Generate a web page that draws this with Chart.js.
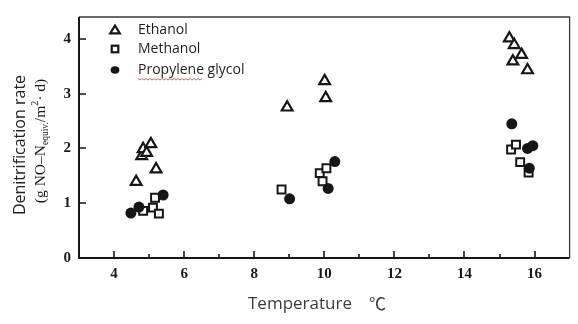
<!DOCTYPE html>
<html>
<head>
<meta charset="utf-8">
<script src="https://cdn.jsdelivr.net/npm/chart.js@4/dist/chart.umd.min.js"></script>
<style>
  html, body { margin: 0; padding: 0; background: #fff; }
  #wrap { width: 578px; height: 324px; }
</style>
</head>
<body>
<div id="wrap"><canvas id="c" width="578" height="324"></canvas></div>
<script>
// Denitrification rate versus temperature for three carbon sources
const ethanolTemp = [4.63, 4.79, 4.83, 4.93, 5.05, 5.20, 8.94, 10.01, 10.04, 15.28, 15.38, 15.42, 15.63, 15.80];
const ethanolRate = [1.39, 1.86, 1.99, 1.92, 2.08, 1.62, 2.75, 3.23, 2.92, 4.01, 3.59, 3.89, 3.71, 3.43];

const methanolTemp = [4.83, 5.11, 5.17, 5.28, 8.78, 9.87, 9.95, 10.06, 15.33, 15.47, 15.59, 15.83];
const methanolRate = [0.86, 0.92, 1.10, 0.81, 1.25, 1.55, 1.40, 1.64, 1.98, 2.07, 1.75, 1.56];

const glycolTemp = [4.48, 4.71, 5.40, 9.01, 10.11, 10.30, 15.35, 15.80, 15.95, 15.85];
const glycolRate = [0.82, 0.93, 1.15, 1.08, 1.27, 1.76, 2.45, 2.00, 2.05, 1.64];

const seriesNames = ['Ethanol', 'Methanol', 'Propylene glycol'];
const xTickLabels = [4, 6, 8, 10, 12, 14, 16];
const yTickLabels = [0, 1, 2, 3, 4];

const pts = (xs, ys) => xs.map((x, i) => ({ x: x, y: ys[i] }));

const INK = '#161616';

// Boxed frame with inward-pointing tick marks
const framePlugin = {
  id: 'frame',
  beforeDatasetsDraw(chart) {
    const { ctx, chartArea: a, scales } = chart;
    ctx.save();
    ctx.strokeStyle = '#3a3a3a';
    ctx.lineWidth = 1.3;
    ctx.beginPath();
    ctx.moveTo(a.left, a.top); ctx.lineTo(a.right, a.top); ctx.lineTo(a.right, a.bottom);
    ctx.stroke();
    ctx.strokeStyle = INK;
    ctx.lineWidth = 2;
    ctx.beginPath();
    ctx.moveTo(a.left, a.top); ctx.lineTo(a.left, a.bottom); ctx.lineTo(a.right, a.bottom);
    ctx.stroke();
    ctx.lineWidth = 1.6;
    ctx.beginPath();
    for (let v = 4; v <= 16; v++) {
      const px = Math.round(scales.x.getPixelForValue(v));
      const len = v % 2 === 0 ? 7 : 4;
      ctx.moveTo(px, a.bottom); ctx.lineTo(px, a.bottom - len);
    }
    yTickLabels.forEach(v => {
      if (v === 0) return;
      const py = Math.round(scales.y.getPixelForValue(v));
      ctx.moveTo(a.left, py); ctx.lineTo(a.left + 7, py);
    });
    ctx.stroke();
    ctx.restore();
  }
};

// Axis titles and the in-plot key
const annotatePlugin = {
  id: 'annotate',
  afterDraw(chart) {
    const ctx = chart.ctx;
    ctx.save();

    // x title
    ctx.fillStyle = '#3b3b3b';
    ctx.textBaseline = 'middle';
    ctx.textAlign = 'left';
    ctx.font = '17px "Open Sans"';
    ctx.fillText('Temperature', 248, 304);
    ctx.font = '17px "Noto Sans CJK SC"';
    ctx.fillText('℃', 369, 304);

    // y title, line 1
    ctx.save();
    ctx.translate(20, 145);
    ctx.rotate(-Math.PI / 2);
    ctx.textAlign = 'center';
    ctx.fillStyle = '#222';
    ctx.font = '16px "Open Sans"';
    ctx.fillText('Denitrification rate', 0, 0);
    ctx.restore();

    // y title, line 2 with sub/superscripts
    ctx.save();
    ctx.translate(41, 141);
    ctx.rotate(-Math.PI / 2);
    ctx.textAlign = 'left';
    ctx.fillStyle = '#1a1a1a';
    const parts = [
      { t: '(g NO\u2013N', f: '15.5px "Liberation Serif"', dy: 0 },
      { t: 'equiv.', f: '9.5px "Liberation Serif"', dy: 4 },
      { t: '/m', f: '15.5px "Liberation Serif"', dy: 0 },
      { t: '2', f: '10px "Liberation Serif"', dy: -6 },
      { t: '\u00b7 d)', f: '15.5px "Liberation Serif"', dy: 0 }
    ];
    let total = 0;
    parts.forEach(p => { ctx.font = p.f; p.w = ctx.measureText(p.t).width; total += p.w; });
    let x = -total / 2;
    parts.forEach(p => { ctx.font = p.f; ctx.fillText(p.t, x, p.dy); x += p.w; });
    ctx.restore();

    // key
    const kx = 115, ky = [30, 49, 70];
    ctx.strokeStyle = INK;
    ctx.fillStyle = INK;
    ctx.lineWidth = 2.2;
    // triangle
    ctx.beginPath();
    ctx.moveTo(kx, ky[0] - 4.5); ctx.lineTo(kx + 4.8, ky[0] + 3.3); ctx.lineTo(kx - 4.8, ky[0] + 3.3); ctx.closePath();
    ctx.stroke();
    // square
    ctx.strokeRect(kx - 3.3, ky[1] - 3.3, 6.6, 6.6);
    // dot
    ctx.beginPath();
    ctx.ellipse(kx, ky[2], 4.4, 3.8, 0, 0, Math.PI * 2);
    ctx.fill();

    ctx.fillStyle = '#1e1e1e';
    ctx.font = '14px "Open Sans"';
    ctx.textAlign = 'left';
    seriesNames.forEach((n, i) => ctx.fillText(n, 138, ky[i]));

    // spell-check underline under the first word of the last key entry
    const w = ctx.measureText('Propylene').width;
    ctx.strokeStyle = '#d23a3a';
    ctx.lineWidth = 0.8;
    ctx.beginPath();
    for (let sx = 138, k = 0; sx <= 138 + w; sx += 2, k++) {
      const sy = 79 + (k % 2 ? 1 : -0.5);
      if (k === 0) ctx.moveTo(sx, sy); else ctx.lineTo(sx, sy);
    }
    ctx.stroke();

    ctx.restore();
  }
};

const tickFont = { family: '"Liberation Serif"', size: 15, weight: 'bold' };

new Chart(document.getElementById('c'), {
  type: 'scatter',
  data: {
    datasets: [
      {
        label: seriesNames[0],
        data: pts(ethanolTemp, ethanolRate),
        pointStyle: 'triangle',
        pointRadius: 6.2,
        borderWidth: 2.2,
        borderColor: INK,
        backgroundColor: '#ffffff',
        order: 2
      },
      {
        label: seriesNames[1],
        data: pts(methanolTemp, methanolRate),
        pointStyle: 'rect',
        pointRadius: 5.6,
        borderWidth: 2,
        borderColor: INK,
        backgroundColor: '#ffffff',
        order: 1
      },
      {
        label: seriesNames[2],
        data: pts(glycolTemp, glycolRate),
        pointStyle: 'circle',
        pointRadius: 5.5,
        borderWidth: 0,
        borderColor: INK,
        backgroundColor: INK,
        order: 0
      }
    ]
  },
  options: {
    responsive: false,
    devicePixelRatio: 1,
    animation: false,
    layout: { padding: { left: 0, right: 8, top: 9, bottom: 0 } },
    plugins: { legend: { display: false }, tooltip: { enabled: false } },
    scales: {
      x: {
        type: 'linear',
        min: 3,
        max: 17,
        grid: { display: false, drawTicks: false },
        border: { display: false },
        afterBuildTicks: s => { s.ticks = xTickLabels.map(v => ({ value: v })); },
        ticks: {
          autoSkip: false,
          maxRotation: 0,
          padding: 7,
          color: '#1a1a1a',
          font: tickFont,
          callback: v => v
        },
        afterFit: s => { s.height = 66; }
      },
      y: {
        min: 0,
        max: 4.4,
        grid: { display: false, drawTicks: false },
        border: { display: false },
        afterBuildTicks: s => { s.ticks = yTickLabels.map(v => ({ value: v })); },
        ticks: {
          autoSkip: false,
          padding: 8,
          color: '#1a1a1a',
          font: tickFont,
          callback: v => v
        },
        afterFit: s => { s.width = 79; }
      }
    }
  },
  plugins: [framePlugin, annotatePlugin]
});
</script>
</body>
</html>
